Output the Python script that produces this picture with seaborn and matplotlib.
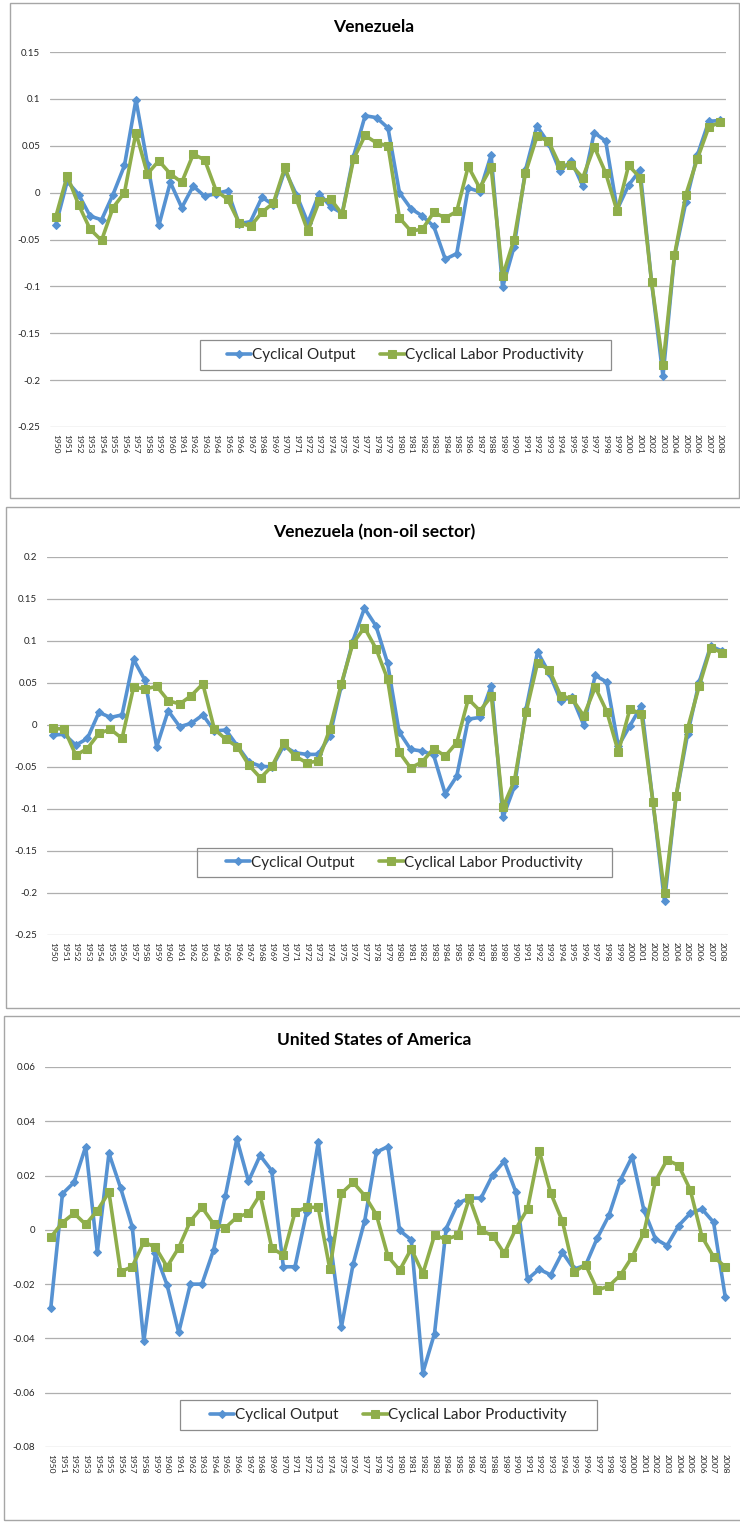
import matplotlib
matplotlib.use("Agg")
import matplotlib.pyplot as plt
import seaborn as sns
from matplotlib.patches import Rectangle

years = list(range(1950, 2009))

ven_output = [
    -0.035, 0.012, -0.002, -0.025, -0.029, -0.002, 0.029, 0.099, 0.031, -0.035,
    0.011, -0.016, 0.007, -0.004, -0.001, 0.002, -0.033, -0.031, -0.005, -0.013,
    0.024, -0.002, -0.032, -0.001, -0.015, -0.022, 0.039, 0.082, 0.080, 0.069,
    0.000, -0.017, -0.025, -0.036, -0.071, -0.065, 0.005, 0.001, 0.040, -0.101,
    -0.058, 0.024, 0.071, 0.053, 0.023, 0.034, 0.007, 0.064, 0.055, -0.018,
    0.008, 0.024, -0.095, -0.196, -0.068, -0.010, 0.040, 0.076, 0.077,
]
ven_productivity = [
    -0.026, 0.018, -0.013, -0.039, -0.051, -0.016, 0.000, 0.064, 0.020, 0.034,
    0.020, 0.011, 0.041, 0.035, 0.002, -0.007, -0.032, -0.036, -0.021, -0.011,
    0.027, -0.007, -0.041, -0.009, -0.007, -0.023, 0.036, 0.061, 0.053, 0.050,
    -0.027, -0.041, -0.039, -0.021, -0.027, -0.020, 0.028, 0.005, 0.027, -0.089,
    -0.050, 0.021, 0.060, 0.055, 0.029, 0.029, 0.016, 0.049, 0.021, -0.020,
    0.029, 0.016, -0.095, -0.184, -0.067, -0.002, 0.036, 0.070, 0.075,
]

nonoil_output = [
    -0.012, -0.011, -0.024, -0.016, 0.015, 0.009, 0.012, 0.078, 0.053, -0.026,
    0.017, -0.002, 0.002, 0.012, -0.007, -0.006, -0.025, -0.044, -0.049, -0.050,
    -0.025, -0.033, -0.035, -0.035, -0.013, 0.047, 0.100, 0.139, 0.118, 0.074,
    -0.008, -0.029, -0.031, -0.036, -0.082, -0.061, 0.007, 0.009, 0.047, -0.110,
    -0.073, 0.019, 0.087, 0.062, 0.029, 0.033, 0.000, 0.059, 0.051, -0.025,
    -0.001, 0.023, -0.092, -0.210, -0.085, -0.011, 0.051, 0.094, 0.088,
]
nonoil_productivity = [
    -0.004, -0.005, -0.036, -0.028, -0.010, -0.005, -0.016, 0.045, 0.043, 0.046,
    0.029, 0.025, 0.035, 0.049, -0.005, -0.017, -0.026, -0.048, -0.063, -0.049,
    -0.022, -0.037, -0.045, -0.043, -0.005, 0.049, 0.097, 0.116, 0.091, 0.055,
    -0.032, -0.051, -0.044, -0.028, -0.037, -0.021, 0.031, 0.017, 0.034, -0.098,
    -0.066, 0.015, 0.074, 0.066, 0.035, 0.031, 0.011, 0.045, 0.016, -0.032,
    0.019, 0.013, -0.092, -0.200, -0.085, -0.004, 0.046, 0.092, 0.086,
]

usa_output = [
    -0.0287, 0.0133, 0.0175, 0.0307, -0.0082, 0.0282, 0.0155, 0.0012, -0.0411, -0.0087,
    -0.0203, -0.0378, -0.0200, -0.0200, -0.0074, 0.0123, 0.0335, 0.0179, 0.0274, 0.0218,
    -0.0136, -0.0136, 0.0065, 0.0323, -0.0033, -0.0357, -0.0126, 0.0034, 0.0286, 0.0307,
    -0.0002, -0.0037, -0.0526, -0.0382, 0.0004, 0.0098, 0.0117, 0.0117, 0.0202, 0.0253,
    0.0139, -0.0182, -0.0145, -0.0166, -0.0083, -0.0145, -0.0130, -0.0030, 0.0053, 0.0184,
    0.0270, 0.0074, -0.0033, -0.0058, 0.0016, 0.0061, 0.0077, 0.0028, -0.0246,
]
usa_productivity = [
    -0.0027, 0.0027, 0.0061, 0.0020, 0.0071, 0.0139, -0.0154, -0.0136, -0.0045, -0.0064,
    -0.0136, -0.0066, 0.0032, 0.0083, 0.0022, 0.0007, 0.0047, 0.0061, 0.0130, -0.0066,
    -0.0094, 0.0065, 0.0083, 0.0083, -0.0145, 0.0135, 0.0175, 0.0126, 0.0056, -0.0098,
    -0.0149, -0.0070, -0.0161, -0.0020, -0.0035, -0.0020, 0.0118, -0.0002, -0.0021, -0.0087,
    0.0004, 0.0077, 0.0292, 0.0135, 0.0032, -0.0154, -0.0129, -0.0222, -0.0207, -0.0166,
    -0.0099, -0.0012, 0.0179, 0.0258, 0.0237, 0.0147, -0.0025, -0.0099, -0.0136,
]

titles = ["Venezuela", "Venezuela (non-oil sector)", "United States of America"]
series_names = ["Cyclical Output", "Cyclical Labor Productivity"]

ven_yticks = [0.15, 0.1, 0.05, 0, -0.05, -0.1, -0.15, -0.2, -0.25]
nonoil_yticks = [0.2, 0.15, 0.1, 0.05, 0, -0.05, -0.1, -0.15, -0.2, -0.25]
usa_yticks = [0.06, 0.04, 0.02, 0, -0.02, -0.04, -0.06, -0.08]

sns.set_style("white")
plt.rcParams["font.family"] = ["Lato", "DejaVu Sans"]

W, H = 740, 1522
fig = plt.figure(figsize=(W / 100, H / 100), dpi=100)
fig.patch.set_facecolor("white")

BLUE = "#5692D2"
GREEN = "#8FAE4B"
GRID = "#afafaf"
FRAME = "#a6a6a6"


def fig_rect(left, top, right, bottom):
    return [left / W, 1 - bottom / H, (right - left) / W, (bottom - top) / H]


def add_box(left, top, right, bottom, color, lw):
    fig.patches.append(Rectangle((left / W, 1 - bottom / H), (right - left) / W,
                                 (bottom - top) / H, transform=fig.transFigure,
                                 fill=False, edgecolor=color, linewidth=lw,
                                 zorder=5))


# chart frames, plot areas, title anchors, legend boxes (pixel layout)
panels = [
    dict(frame=(10, 3, 739, 498), area=(50, 52, 726, 427), title_y=27,
         legend=(200, 340, 611, 370), data=(ven_output, ven_productivity),
         ticks=ven_yticks),
    dict(frame=(6, 507, 745, 1008), area=(47, 557, 728, 935), title_y=532,
         legend=(197, 848, 612, 877), data=(nonoil_output, nonoil_productivity),
         ticks=nonoil_yticks),
    dict(frame=(4, 1016, 745, 1520), area=(45, 1067, 731, 1447), title_y=1040,
         legend=(180, 1400, 597, 1430), data=(usa_output, usa_productivity),
         ticks=usa_yticks),
]

for title, p in zip(titles, panels):
    add_box(*p["frame"], FRAME, 1.0)
    ax = fig.add_axes(fig_rect(*p["area"]))
    out, prod = p["data"]
    sns.lineplot(x=years, y=out, ax=ax, color=BLUE, linewidth=2.6, marker="D",
                 markersize=3.8, markeredgecolor=BLUE, label=series_names[0])
    sns.lineplot(x=years, y=prod, ax=ax, color=GREEN, linewidth=2.6, marker="s",
                 markersize=5.5, markeredgecolor=GREEN, label=series_names[1])

    ticks = p["ticks"]
    ax.set_ylim(min(ticks), max(ticks))
    ax.set_yticks(ticks)
    ax.set_yticklabels([f"{v:g}" for v in ticks], fontsize=7, color="#262626")
    ax.set_xlim(years[0] - 0.5, years[-1] + 0.5)
    ax.set_xticks(years)
    ax.set_xticklabels([str(y) for y in years], rotation=-90, fontsize=6,
                       color="#262626")
    ax.tick_params(axis="both", length=0)
    ax.tick_params(axis="y", pad=7)
    ax.tick_params(axis="x", pad=5)
    ax.set_xlabel("")
    ax.set_ylabel("")
    for s in ax.spines.values():
        s.set_visible(False)
    ax.yaxis.grid(True, color=GRID, linewidth=0.9)
    ax.xaxis.grid(False)
    ax.set_axisbelow(True)

    fig.text(374 / W, 1 - p["title_y"] / H, title, ha="center", va="center",
             fontsize=12.5, fontweight="bold", color="black")

    l, t, r, b = p["legend"]
    ax.legend(loc="center", bbox_to_anchor=((l + r) / 2 / W, 1 - (t + b) / 2 / H),
              bbox_transform=fig.transFigure, ncol=2, fontsize=11,
              frameon=False, handlelength=1.6, handletextpad=0.05,
              columnspacing=1.6, borderpad=0.3, borderaxespad=0)
    add_box(l, t, r, b, "#8c8c8c", 0.9)

fig.savefig("out.png", dpi=100, facecolor="white")
